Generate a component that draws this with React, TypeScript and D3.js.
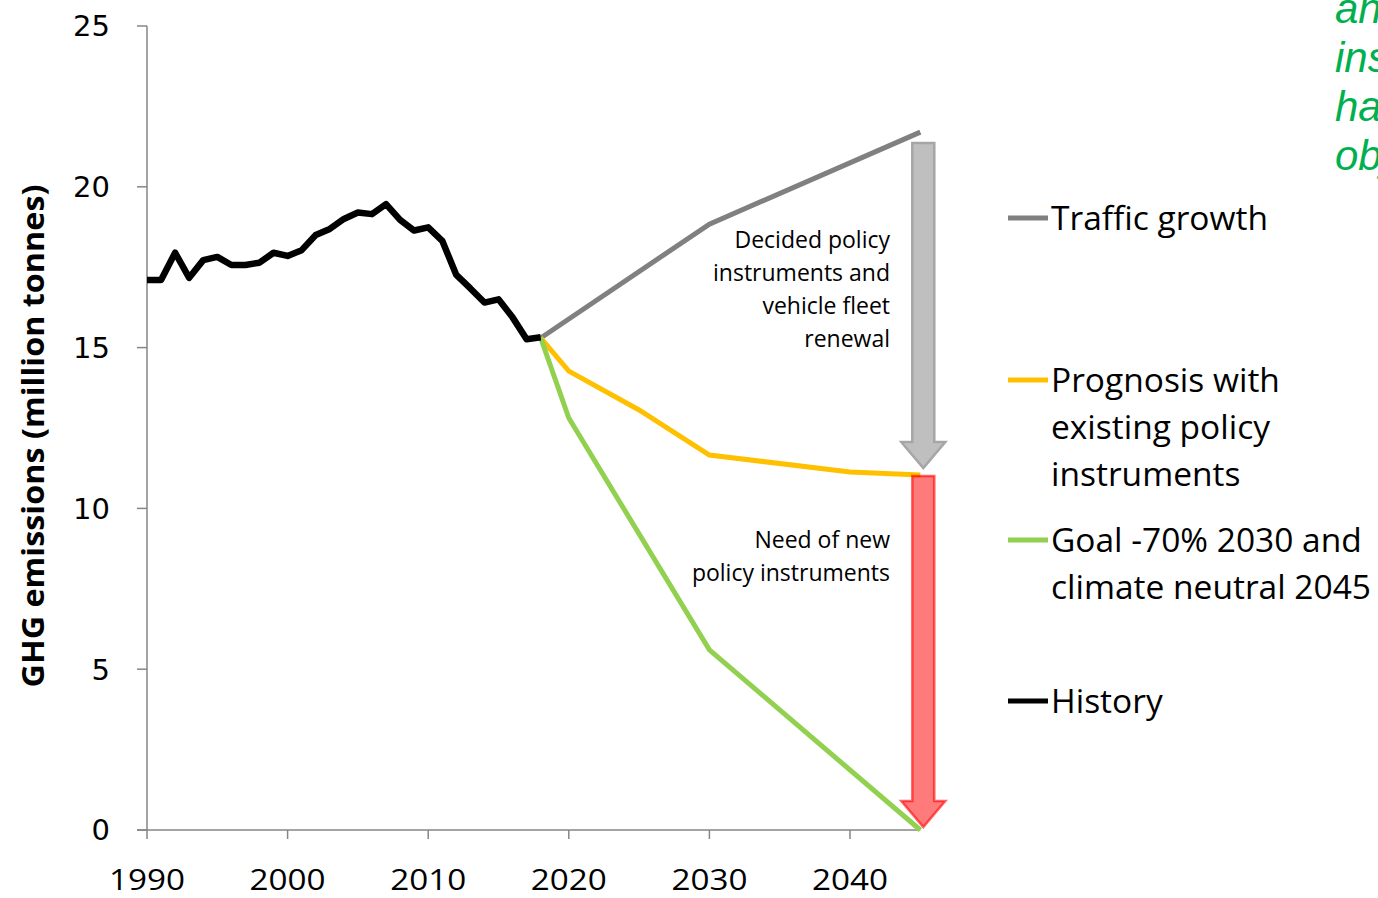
import React from "react";
import * as d3 from "d3";

const historyYears = [1990,1991,1992,1993,1994,1995,1996,1997,1998,1999,2000,2001,2002,2003,2004,2005,2006,2007,2008,2009,2010,2011,2012,2013,2014,2015,2016,2017,2018];
const historyValues = [17.1,17.1,17.95,17.17,17.72,17.82,17.57,17.57,17.64,17.95,17.85,18.03,18.5,18.69,19.0,19.2,19.15,19.46,18.97,18.64,18.74,18.32,17.26,16.84,16.4,16.5,15.94,15.26,15.32];

const trafficYears = [2018, 2030, 2045];
const trafficValues = [15.3, 18.84, 21.7];

const prognosisYears = [2018, 2020, 2025, 2030, 2040, 2045];
const prognosisValues = [15.3, 14.27, 13.06, 11.66, 11.13, 11.04];

const goalYears = [2018, 2020, 2030, 2045];
const goalValues = [15.3, 12.81, 5.6, 0];

const xTicks = [1990, 2000, 2010, 2020, 2030, 2040];
const yTicks = [0, 5, 10, 15, 20, 25];

const legendItems = [
  { lines: ["Traffic growth"], color: "#808080", y: 218 },
  { lines: ["Prognosis with", "existing policy", "instruments"], color: "#FFC000", y: 380 },
  { lines: ["Goal -70% 2030 and", "climate neutral 2045"], color: "#92D050", y: 540 },
  { lines: ["History"], color: "#000000", y: 701 },
];

const annotation1 = ["Decided policy", "instruments and", "vehicle fleet", "renewal"];
const annotation2 = ["Need of new", "policy instruments"];
const cornerText = ["and", "instruments", "have", "objectives"];

export default function App() {
  const W = 1378, H = 898;
  const x = d3.scaleLinear().domain([1990, 2040]).range([147, 850]);
  const y = d3.scaleLinear().domain([0, 25]).range([830, 26]);
  const line = d3.line<[number, number]>().x(d => x(d[0])).y(d => y(d[1]));
  const mk = (ys: number[], vs: number[]) => ys.map((yr, i) => [yr, vs[i]] as [number, number]);

  const axisColor = "#868686";
  const font = "'Open Sans', sans-serif";

  const arrowPath = (cx: number, y0: number, y1: number) => {
    const sw = 11, hw = 22, hh = 26;
    return `M${cx - sw},${y0} L${cx + sw},${y0} L${cx + sw},${y1 - hh} L${cx + hw},${y1 - hh} L${cx},${y1} L${cx - hw},${y1 - hh} L${cx - sw},${y1 - hh} Z`;
  };
  const ax = x(2045) + 3;

  return (
    <svg width={W} height={H} style={{ position: "absolute", left: 0, top: 0, background: "#fff" }}>
      {/* axes */}
      <line x1={x(1990)} x2={x(1990)} y1={y(25)} y2={y(0)} stroke={axisColor} strokeWidth={1.5} />
      <line x1={x(1990) - 10} x2={x(2045)} y1={y(0)} y2={y(0)} stroke={axisColor} strokeWidth={1.5} />
      {yTicks.map(t => (
        <g key={"y" + t}>
          <line x1={x(1990) - 10} x2={x(1990)} y1={y(t)} y2={y(t)} stroke={axisColor} strokeWidth={1.5} />
          <text x={110} y={y(t)} dy="0.36em" textAnchor="end" fontFamily="'DejaVu Sans', sans-serif" fontSize={29} fill="#000">{t}</text>
        </g>
      ))}
      {xTicks.map(t => (
        <g key={"x" + t}>
          <line x1={x(t)} x2={x(t)} y1={y(0)} y2={y(0) + 9} stroke={axisColor} strokeWidth={1.5} />
          <text x={x(t)} y={890} textAnchor="middle" fontFamily={font} fontSize={30} fill="#000" textLength={76} lengthAdjust="spacingAndGlyphs">{t}</text>
        </g>
      ))}
      <text transform={`translate(44,436) rotate(-90)`} textAnchor="middle" fontFamily={font} fontWeight="bold" fontSize={30} fill="#000" textLength={503} lengthAdjust="spacingAndGlyphs">GHG emissions (million tonnes)</text>

      {/* projections */}
      <path d={line(mk(trafficYears, trafficValues)) || ""} fill="none" stroke="#808080" strokeWidth={5} />
      <path d={line(mk(prognosisYears, prognosisValues)) || ""} fill="none" stroke="#FFC000" strokeWidth={5} />
      <path d={line(mk(goalYears, goalValues)) || ""} fill="none" stroke="#92D050" strokeWidth={5} />

      {/* arrows */}
      <path d={arrowPath(ax, 143, 468)} fill="#BFBFBF" stroke="#A6A6A6" strokeWidth={2.5} />
      <path d={arrowPath(ax, y(11.04) + 1, 827)} fill="rgba(255,0,0,0.52)" stroke="rgba(255,0,0,0.6)" strokeWidth={2.5} />

      {/* history */}
      <path d={line(mk(historyYears, historyValues)) || ""} fill="none" stroke="#000" strokeWidth={6.5} strokeLinejoin="round" />

      {/* annotations */}
      {annotation1.map((s, i) => (
        <text key={"a1" + i} x={890} y={240 + i * 33} dy="0.35em" textAnchor="end" fontFamily={font} fontSize={23} fill="#000">{s}</text>
      ))}
      {annotation2.map((s, i) => (
        <text key={"a2" + i} x={890} y={540 + i * 33} dy="0.35em" textAnchor="end" fontFamily={font} fontSize={23} fill="#000">{s}</text>
      ))}

      {/* legend */}
      {legendItems.map((it, k) => (
        <g key={"l" + k}>
          <line x1={1008} x2={1048} y1={it.y} y2={it.y} stroke={it.color} strokeWidth={5} />
          {it.lines.map((s, i) => (
            <text key={i} x={1051} y={it.y + i * 47} dy="0.35em" fontFamily={font} fontSize={33.5} fill="#000">{s}</text>
          ))}
        </g>
      ))}

      {/* clipped corner text */}
      {cornerText.map((s, i) => (
        <text key={"c" + i} x={1335} y={8 + i * 49} dy="0.35em" fontFamily="'Liberation Sans', Arial, sans-serif" fontStyle="italic" fontSize={42} fill="#00B050">{s}</text>
      ))}
    </svg>
  );
}
